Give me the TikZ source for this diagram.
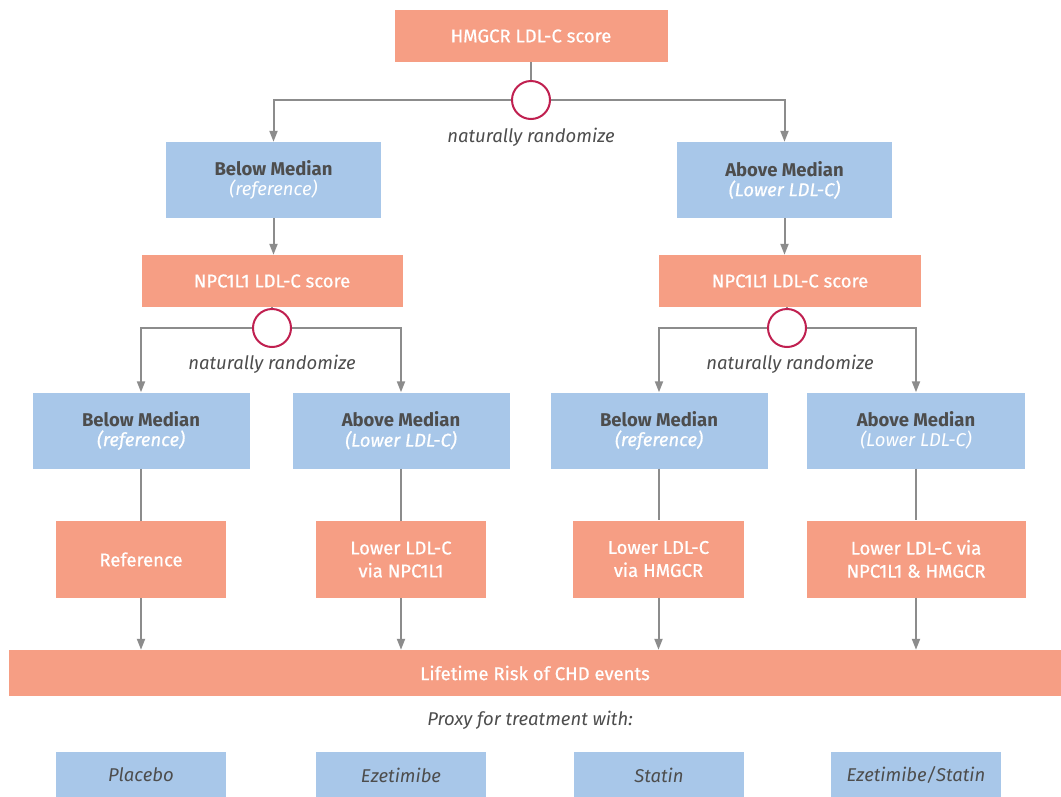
\documentclass[tikz,border=0pt]{standalone}
\usepackage{fontspec}
\setmainfont{Fira Sans}
\newfontfamily\medfont[FakeBold=0.7]{Fira Sans}
\usetikzlibrary{arrows.meta,calc}
\definecolor{salmon}{RGB}{246,158,132}
\definecolor{lblue}{RGB}{168,199,233}
\definecolor{crim}{RGB}{192,32,80}
\definecolor{lgray}{RGB}{140,140,140}
\definecolor{dtext}{RGB}{77,77,77}
\tikzset{
  sbox/.style={rectangle, fill=salmon, inner sep=0pt, align=center, text=white,
    font=\medfont\fontsize{18.5}{23}\selectfont},
  bbox/.style={rectangle, fill=lblue, inner sep=0pt, align=center, text=dtext,
    font=\fontsize{18.5}{22}\selectfont},
  pbox/.style={bbox, minimum width=170pt, minimum height=46pt, font=\fontsize{18.5}{20}\selectfont\itshape},
  rnd/.style={circle, draw=crim, line width=2pt, fill=white, minimum size=38pt, inner sep=0pt},
  lbl/.style={text=dtext, font=\fontsize{18.5}{20}\selectfont\itshape, inner sep=0pt},
  conn/.style={draw=lgray, line width=2pt},
  arr/.style={conn, -{Triangle[width=8pt,length=11pt]}},
}
% light subtitle
\newcommand{\sub}[1]{\\[-2pt]{\color{white}\itshape #1}}
% semibold subtitle
\newcommand{\subm}[1]{\\[-2pt]{\color{white}\medfont\itshape #1}}
\begin{document}
\begin{tikzpicture}[x=1pt,y=-1pt]
\useasboundingbox (0,0) rectangle (1061,796);
\fill[white] (0,0) rectangle (1061,796);
% level 0
\node[sbox, minimum width=273pt, minimum height=52pt] (hm) at (531,36) {HMGCR LDL-C score};
\node[rnd] (c0) at (531,100) {};
\node[lbl] (t0) at (531,137) {naturally randomize};
% level 1
\node[bbox, minimum width=215pt, minimum height=76pt] (b1) at (273.5,180) {\bfseries Below Median\sub{(reference)}};
\node[bbox, minimum width=215pt, minimum height=76pt] (a1) at (784.5,180) {\bfseries Above Median\subm{(Lower LDL-C)}};
% level 2
\node[sbox, minimum width=261pt, minimum height=52pt] (n1) at (272,281) {NPC1L1 LDL-C score};
\node[sbox, minimum width=262pt, minimum height=52pt] (n2) at (790,281) {NPC1L1 LDL-C score};
\node[rnd] (c1) at (272,328) {};
\node[rnd] (c2) at (787,328) {};
\node[lbl] (t1) at (272,364) {naturally randomize};
\node[lbl] (t2) at (790,364) {naturally randomize};
% level 3
\node[bbox, minimum width=217pt, minimum height=76pt] (ll) at (141,430.5) {\bfseries Below Median\subm{(reference)}};
\node[bbox, minimum width=217pt, minimum height=76pt] (lr) at (401,430.5) {\bfseries Above Median\subm{(Lower LDL-C)}};
\node[bbox, minimum width=217pt, minimum height=76pt] (rl) at (659,430.5) {\bfseries Below Median\subm{(reference)}};
\node[bbox, minimum width=218pt, minimum height=76pt] (rr) at (916,430.5) {\bfseries Above Median\sub{(Lower LDL-C)}};
% level 4
\node[sbox, minimum width=170pt, minimum height=77pt] (o1) at (141,559.5) {Reference};
\node[sbox, minimum width=170pt, minimum height=77pt] (o2) at (401,559.5) {Lower LDL-C\\via NPC1L1};
\node[sbox, minimum width=171pt, minimum height=77pt] (o3) at (658.5,559) {Lower LDL-C\\via HMGCR};
\node[sbox, minimum width=219pt, minimum height=77pt] (o4) at (916,559) {Lower LDL-C via\\NPC1L1 \& HMGCR};
% bar
\node[sbox, minimum width=1052pt, minimum height=46pt] (bar) at (535,673) {Lifetime Risk of CHD events};
\node[lbl] (px) at (530,720) {Proxy for treatment with:};
% proxies
\node[pbox] (p1) at (141,775) {Placebo};
\node[pbox] (p2) at (401,775) {Ezetimibe};
\node[pbox] (p3) at (659,775) {Statin};
\node[pbox] (p4) at (916,775) {Ezetimibe/Statin};
% connectors
\draw[conn] (hm.south) -- (c0.north);
\draw[arr] (c0.west) -| (b1.north);
\draw[arr] (c0.east) -| (a1.north);
\draw[arr] (b1.south) -- (b1.south |- n1.north);
\draw[arr] (a1.south) -- (a1.south |- n2.north);
\draw[conn] (n1.south) -- (c1.north);
\draw[conn] (n2.south -| c2.north) -- (c2.north);
\draw[arr] (c1.west) -| (ll.north);
\draw[arr] (c1.east) -| (lr.north);
\draw[arr] (c2.west) -| (rl.north);
\draw[arr] (c2.east) -| (rr.north);
\draw[conn] (ll.south) -- (o1.north);
\draw[conn] (lr.south) -- (o2.north);
\draw[conn] (rl.south) -- (rl.south |- o3.north);
\draw[conn] (rr.south) -- (o4.north);
\draw[arr] (o1.south) -- (o1.south |- bar.north);
\draw[arr] (o2.south) -- (o2.south |- bar.north);
\draw[arr] (o3.south) -- (o3.south |- bar.north);
\draw[arr] (o4.south) -- (o4.south |- bar.north);
\end{tikzpicture}
\end{document}
